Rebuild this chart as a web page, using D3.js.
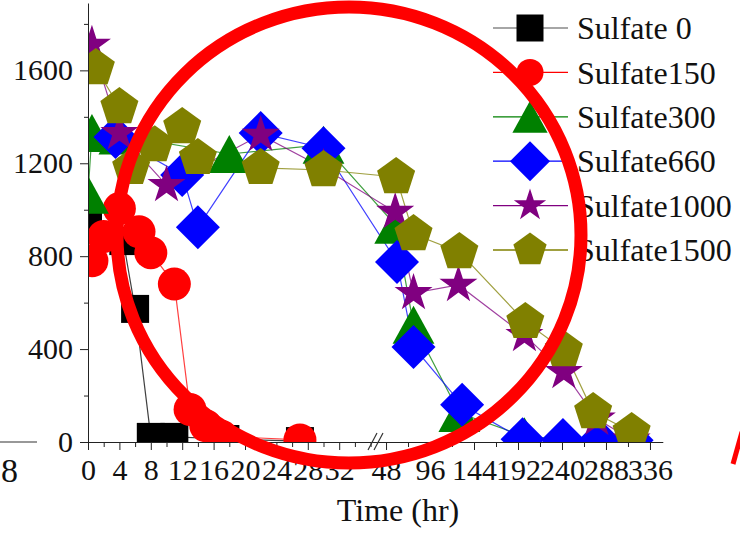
<!DOCTYPE html>
<html>
<head>
<meta charset="utf-8">
<script src="https://cdn.jsdelivr.net/npm/d3@7"></script>
<style>
  html, body { margin: 0; padding: 0; background: #fff; }
  svg { display: block; font-family: "Liberation Serif", "Times New Roman", serif; }
</style>
</head>
<body>
<div id="chart"></div>
<script>
// #####################################################
// Data (hours / concentration)
//
var hrs0    = [0, 4.5, 6, 8, 11, 17.5, 27];
var val0    = [940, 865, 573, 22, 22, 13, 4];

var hrs150  = [0.5, 2, 4, 6.5, 8, 11, 13, 15, 17, 27];
var val150  = [780, 885, 1005, 905, 815, 680, 140, 70, 25, 9];

var hrs300  = [0, 0.5, 4, 18, 30, 58, 78, 128, 199, 242];
var val300  = [1065, 1330, 1320, 1240, 1280, 935, 505, 125, 25, 10];

var hrs660  = [3.5, 12, 14, 22, 30, 60, 78, 131, 197, 241, 281, 316];
var val660  = [1313, 1150, 925, 1330, 1265, 775, 409, 160, 12, 9, 5, 8];

var hrs1000 = [0.5, 4, 10, 22, 30, 58, 78, 127, 199, 242, 278, 316];
var val1000 = [1710, 1330, 1106, 1322, 1180, 990, 641, 676, 460, 301, 100, 10];

var hrs1500 = [1, 4, 5.5, 8.5, 12, 14, 22, 30, 59, 78, 128, 200, 242, 274, 316];
var val1500 = [1610, 1442, 1180, 1278, 1356, 1223, 1180, 1171, 1141, 895, 818, 517, 396, 129, 43];

var seriesNames  = ["Sulfate 0", "Sulfate150", "Sulfate300", "Sulfate660", "Sulfate1000", "Sulfate1500"];
var seriesColors = ["#000000", "#ff0000", "#008000", "#0000ff", "#800080", "#808000"];
var legendLineColors = ["#888888", "#ff0000", "#008000", "#0000ff", "#800080", "#808000"];

var xMajor = [0, 4, 8, 12, 16, 20, 24, 28, 32, 48, 96, 144, 192, 240, 288, 336];
var xMinor = [2, 6, 10, 14, 18, 22, 26, 30, 34, 36, 72, 120, 168, 216, 264, 312];
var yMajor = [0, 400, 800, 1200, 1600];
var yMinor = [200, 600, 1000, 1400, 1800];

// #####################################################
// Marker shapes (size = pixel extent)
//
var symSquare = { draw: function(c, s) { c.rect(-s / 2, -s / 2, s, s); } };
var symCircle = { draw: function(c, s) { c.moveTo(s / 2, 0); c.arc(0, 0, s / 2, 0, 2 * Math.PI); } };
var symTriangle = { draw: function(c, s) {
  c.moveTo(0, -s / 2); c.lineTo(s * 0.55, s / 2); c.lineTo(-s * 0.55, s / 2); c.closePath();
} };
var symDiamond = { draw: function(c, s) {
  c.moveTo(0, -s / 2); c.lineTo(s / 2, 0); c.lineTo(0, s / 2); c.lineTo(-s / 2, 0); c.closePath();
} };
var symStar = { draw: function(c, s) { d3.symbolStar.draw(c, (s / 2) * (s / 2) / 0.8908130915); } };
var symPentagon = { draw: function(c, s) {
  var r = s / 2;
  for (var k = 0; k < 5; k++) {
    var a = -Math.PI / 2 + k * 2 * Math.PI / 5;
    if (k == 0) c.moveTo(r * Math.cos(a), r * Math.sin(a));
    else c.lineTo(r * Math.cos(a), r * Math.sin(a));
  }
  c.closePath();
} };

var symbols     = [symSquare, symCircle, symTriangle, symDiamond, symStar, symPentagon];
var markerSize  = [28, 33, 38, 44, 40, 40];
var legendSize  = [27, 27, 32, 40, 34, 35];

var series = [
  [hrs0, val0], [hrs150, val150], [hrs300, val300],
  [hrs660, val660], [hrs1000, val1000], [hrs1500, val1500]
].map(function(p, i) {
  return {
    name: seriesNames[i],
    color: seriesColors[i],
    points: p[0].map(function(h, j) { return { hr: h, v: p[1][j] }; })
  };
});

// #####################################################
// Plot
//
var width = 740, height = 541;

var svg = d3.select("#chart").append("svg")
    .attr("width", width)
    .attr("height", height);

// broken time axis: 0-36 h then 40-350 h
var x = d3.scaleLinear().domain([0, 36, 40, 350]).range([88, 370.6, 378.7, 662.8]);
var y = d3.scaleLinear().domain([0, 1890]).range([442, 3]);

svg.append("clipPath").attr("id", "plotclip")
  .append("rect").attr("x", 88).attr("y", 0).attr("width", 652).attr("height", 442);

var plot = svg.append("g").attr("clip-path", "url(#plotclip)");

var line = d3.line()
    .x(function(d) { return x(d.hr); })
    .y(function(d) { return y(d.v); });

series.forEach(function(s) {
  plot.append("path")
      .datum(s.points)
      .attr("fill", "none")
      .attr("stroke", s.color)
      .attr("stroke-width", 1.2)
      .attr("stroke-opacity", 0.75)
      .attr("d", line);
});

series.forEach(function(s, i) {
  plot.selectAll(null)
      .data(s.points)
      .enter().append("path")
        .attr("fill", s.color)
        .attr("d", d3.symbol().type(symbols[i]).size(markerSize[i]))
        .attr("transform", function(d) { return "translate(" + x(d.hr) + "," + y(d.v) + ")"; });
});

// Axes
var xAxis = svg.append("g")
    .attr("transform", "translate(0,442)")
    .style("color", "#222")
    .call(d3.axisBottom(x).tickValues(xMajor).tickSize(8).tickPadding(9)
            .tickSizeOuter(0).tickFormat(d3.format("d")));
xAxis.selectAll("text").style("font-size", "30px").style("font-family", "Liberation Serif").attr("fill", "#111");

svg.append("g")
    .attr("transform", "translate(0,442)")
    .style("color", "#222")
    .call(d3.axisBottom(x).tickValues(xMinor).tickSize(5).tickSizeOuter(0).tickFormat(""))
    .select(".domain").remove();

var yAxis = svg.append("g")
    .attr("transform", "translate(88,0)")
    .style("color", "#222")
    .call(d3.axisLeft(y).tickValues(yMajor).tickSize(8).tickPadding(7)
            .tickSizeOuter(0).tickFormat(d3.format("d")));
yAxis.selectAll("text").style("font-size", "30px").style("font-family", "Liberation Serif").attr("fill", "#111");

svg.append("g")
    .attr("transform", "translate(88,0)")
    .style("color", "#222")
    .call(d3.axisLeft(y).tickValues(yMinor).tickSize(4).tickSizeOuter(0).tickFormat(""))
    .select(".domain").remove();

// axis break marks
[0, 6].forEach(function(off) {
  svg.append("line")
      .attr("x1", 368 + off).attr("y1", 450)
      .attr("x2", 377 + off).attr("y2", 433)
      .attr("stroke", "#333").attr("stroke-width", 1.2);
});

svg.append("text")
    .attr("x", 398).attr("y", 521)
    .attr("text-anchor", "middle")
    .style("font-size", "32px")
    .attr("fill", "#111")
    .text("Time (hr)");

// Legend
var legend = svg.append("g");
series.forEach(function(s, i) {
  var ly = 28 + i * 44.4;
  legend.append("line")
      .attr("x1", 493).attr("x2", 568).attr("y1", ly).attr("y2", ly)
      .attr("stroke", legendLineColors[i]).attr("stroke-width", 1.3);
  legend.append("path")
      .attr("fill", s.color)
      .attr("d", d3.symbol().type(symbols[i]).size(legendSize[i]))
      .attr("transform", "translate(530," + ly + ")");
  legend.append("text")
      .attr("x", 577).attr("y", ly)
      .attr("dy", "0.35em")
      .style("font-size", "32px")
      .attr("fill", "#111")
      .text(s.name);
});

// bits of the neighbouring panel at the left edge
svg.append("line").attr("x1", 0).attr("x2", 37).attr("y1", 442).attr("y2", 442)
    .attr("stroke", "#333").attr("stroke-width", 1.2);
svg.append("text").attr("x", 1).attr("y", 482).attr("text-anchor", "start")
    .style("font-size", "34px").attr("fill", "#111").text("8");

// red annotation ellipse
svg.append("ellipse")
    .attr("cx", 349).attr("cy", 235).attr("rx", 232).attr("ry", 228)
    .attr("fill", "none")
    .attr("stroke", "#ff0000")
    .attr("stroke-width", 13);

svg.append("line").attr("x1", 742).attr("y1", 432).attr("x2", 733).attr("y2", 464)
    .attr("stroke", "#ff0000").attr("stroke-width", 5);
</script>
</body>
</html>
